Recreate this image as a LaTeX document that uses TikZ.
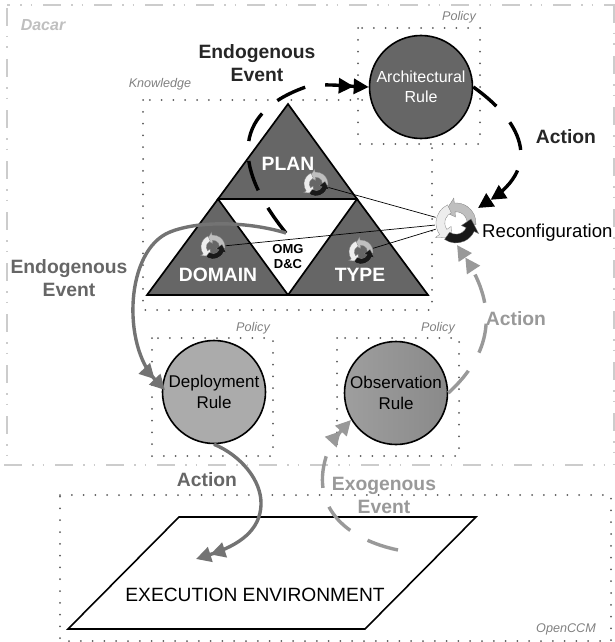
\documentclass[tikz,border=0pt]{standalone}
\usepackage{fontspec}
\setmainfont{Liberation Sans}
\usetikzlibrary{arrows.meta,positioning}
\definecolor{darkfill}{gray}{0.40}
\definecolor{deployfill}{gray}{0.67}
\definecolor{actiongray}{gray}{0.45}
\definecolor{eventgray}{gray}{0.60}
\tikzset{
  boxdots/.style={draw=black!65,line width=2pt,line cap=round,dash pattern=on 0pt off 11.8pt},
  dacarline/.style={draw=black!20,line width=2.6pt,dash pattern=on 18pt off 10pt on 1.5pt off 9pt on 1.5pt off 11pt},
  tagtext/.style={font=\itshape\fontsize{12.6}{14}\selectfont,text=black!50},
  rulenode/.style={circle,draw=black,line width=1.6pt,minimum size=103pt,inner sep=0pt,align=center,font=\fontsize{17}{20.5}\selectfont},
  tribig/.style={fill=darkfill,draw=black,line width=1.7pt,line join=miter},
  trilabel/.style={font=\bfseries\fontsize{19.3}{24}\selectfont,text=white},
  flowlabel/.style={font=\bfseries\fontsize{19.3}{23}\selectfont,align=center},
  hub/.style={circle,inner sep=0pt},
  flowline/.style={line width=3.4pt},
  twotips/.style={-{Triangle[length=15pt,width=15pt]Triangle[length=15pt,width=15pt]}},
  pics/cycle/.style={code={
    \filldraw[fill=black!25,draw=black!50,line width=.3pt] (-5:1) arc[start angle=-5,end angle=95,radius=1]
      -- (95:1.25) -- (135:.78) -- (95:.3) -- (95:.56) arc[start angle=95,end angle=-5,radius=.56] -- cycle;
    \filldraw[fill=black!7,draw=black!50,line width=.3pt] (115:1) arc[start angle=115,end angle=215,radius=1]
      -- (215:1.25) -- (255:.78) -- (215:.3) -- (215:.56) arc[start angle=215,end angle=115,radius=.56] -- cycle;
    \filldraw[fill=black!90,draw=black!50,line width=.3pt] (235:1) arc[start angle=235,end angle=335,radius=1]
      -- (335:1.25) -- (375:.78) -- (335:.3) -- (335:.56) arc[start angle=335,end angle=235,radius=.56] -- cycle;
  }}
}
\begin{document}
\begin{tikzpicture}[x=1pt,y=-1pt]
  \useasboundingbox (0,0) rectangle (615,642);
  % areas
  \draw[dacarline] (7,8) -- (7,465);
  \draw[dacarline,dash phase=15pt] (7,5) -- (615,5);
  \draw[dacarline] (4,465) -- (615,465);
  \draw[dacarline] (614,5) -- (614,465);
  \draw[boxdots] (143,100) rectangle (432,310);
  \draw[boxdots] (358,28) rectangle (480,144);
  \draw[boxdots] (152,338) rectangle (273,456);
  \draw[boxdots] (337,338) rectangle (459,456);
  \draw[boxdots] (60,495) -- (611,495) -- (611,641) -- (60,641) -- cycle;
  \node[font=\bfseries\itshape\fontsize{16}{18}\selectfont,text=black!25] (dacarTag) at (43,25) {Dacar};
  \node[tagtext] (knowledgeTag) at (160,84) {Knowledge};
  \node[tagtext] (archTag) at (459,17) {Policy};
  \node[tagtext] (deployTag) at (253,328) {Policy};
  \node[tagtext] (observeTag) at (438,328) {Policy};
  \node[tagtext] (openccmTag) at (566,629) {OpenCCM};
  % triangles
  \filldraw[tribig] (288,104) -- (357,199) -- (218,199) -- cycle;
  \filldraw[tribig] (218,199) -- (288,295) -- (147,295) -- cycle;
  \filldraw[tribig] (357,199) -- (428,295) -- (288,295) -- cycle;
  \node[trilabel] (planLabel) at (288,164) {PLAN};
  \node[trilabel] (domainLabel) at (218,275) {DOMAIN};
  \node[trilabel] (typeLabel) at (360,275) {TYPE};
  \node[font=\bfseries\fontsize{13}{15}\selectfont,align=center] (omgLabel) at (288,257) {OMG\\D\&C};
  % rules
  \node[rulenode,fill=darkfill,text=white,font=\fontsize{16}{20}\selectfont] (archRule) at (421,87) {Architectural\\Rule};
  \node[rulenode,fill=deployfill] (deployRule) at (214,392) {Deployment\\Rule};
  \node[rulenode,left color=black!38,right color=black!46,draw=black] (observeRule) at (396,393) {Observation\\Rule};
  % execution environment
  \filldraw[fill=white,draw=black,line width=1.6pt] (179,517) -- (476,517) -- (365,629) -- (68,629) -- cycle;
  \node[font=\fontsize{19.2}{24}\selectfont] (execLabel) at (255,595) {EXECUTION ENVIRONMENT};
  % reconfiguration hubs
  \node[hub,minimum size=25pt] (planHub) at (316,184) {};
  \node[hub,minimum size=25pt] (domainHub) at (213,247) {};
  \node[hub,minimum size=25pt] (typeHub) at (361,252) {};
  \node[hub,minimum size=42pt] (reconfHub) at (456,223) {};
  \draw[line width=.7pt] (planHub) -- (reconfHub);
  \draw[line width=.7pt] (domainHub) -- (reconfHub);
  \draw[line width=.7pt] (typeHub) -- (reconfHub);
  \pic[x=12pt,y=12pt] at (planHub) {cycle};
  \pic[x=12pt,y=12pt] at (domainHub) {cycle};
  \pic[x=12pt,y=12pt] at (typeHub) {cycle};
  \pic[x=20pt,y=20pt] at (reconfHub) {cycle};
  \node[font=\fontsize{18.6}{24}\selectfont,right=1.5pt of reconfHub.east,yshift=-10pt] (reconfLabel) {Reconfiguration};
  % flows
  \coordinate (omgTop) at (286,233);
  \coordinate (reconfTop) at (478,208);
  \coordinate (reconfLow) at (457,245);
  \coordinate (deployIn) at (165,390);
  \coordinate (observeIn) at (351,420);
  \coordinate (execDrop) at (196,559);
  \coordinate (execStart) at (398,550);
  \draw[flowline,twotips,dash pattern=on 31pt off 20pt] (omgTop) .. controls (243,180) and (222,118) .. (303,88) .. controls (318,82.5) and (345,86) .. (archRule.west);
  \draw[flowline,twotips,dash pattern=on 30pt off 21pt] (archRule.east) .. controls (520,120) and (544,165) .. (reconfTop);
  \draw[flowline,twotips,actiongray] (omgTop) .. controls (250,222) and (200,220) .. (170,232) .. controls (125,250) and (122,345) .. (deployIn);
  \draw[flowline,twotips,actiongray] (deployRule.south) .. controls (240,455) and (262,480) .. (261,505) .. controls (260,530) and (240,545) .. (execDrop);
  \draw[flowline,twotips,eventgray,dash pattern=on 30pt off 21pt] (observeRule.east) .. controls (490,355) and (500,310) .. (reconfLow);
  \draw[flowline,twotips,eventgray,dash pattern=on 32pt off 20pt] (execStart) .. controls (350,540) and (310,510) .. (326,457) .. controls (330,445) and (340,432) .. (observeIn);
  % flow labels
  \node[flowlabel,text=black!85] (endoTop) at (257,63) {Endogenous\\Event};
  \node[flowlabel,text=black!85] (actionTop) at (566,137) {Action};
  \node[flowlabel,text=black!60] (endoLeft) at (69,278) {Endogenous\\Event};
  \node[flowlabel,text=black!60] (actionExec) at (207,480) {Action};
  \node[flowlabel,text=black!40] (actionObs) at (516,319) {Action};
  \node[flowlabel,text=black!40] (exoLabel) at (384,495) {Exogenous\\Event};
\end{tikzpicture}
\end{document}
